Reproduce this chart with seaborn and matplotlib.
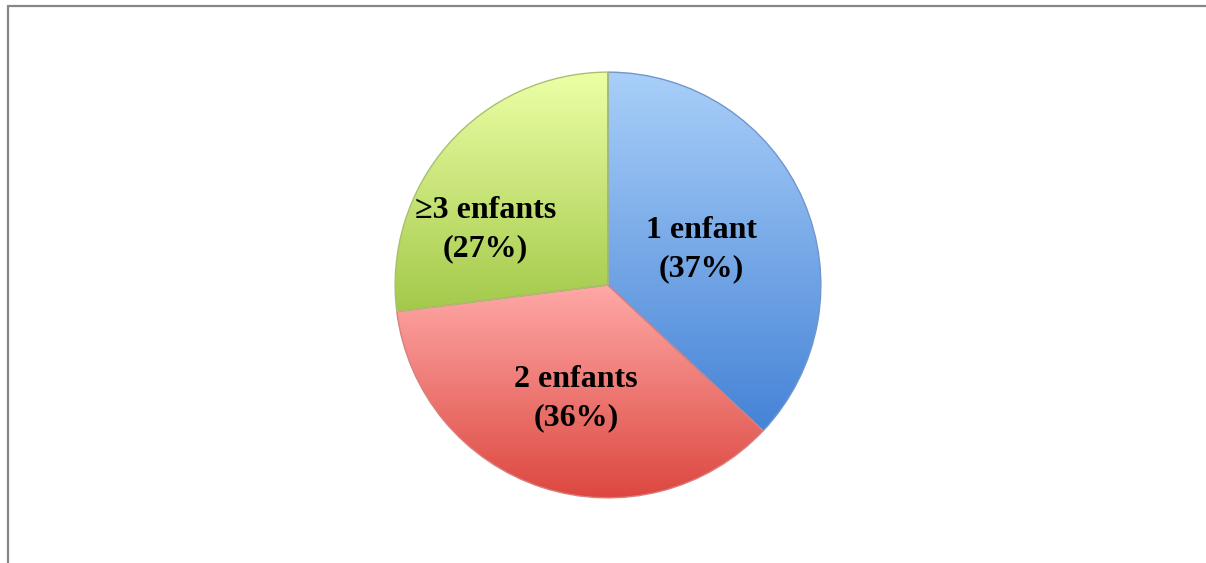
import matplotlib.pyplot as plt
import numpy as np
import seaborn as sns
from matplotlib.colors import to_rgb

# data
categories = ['1 enfant', '2 enfants', '≥3 enfants']
shares = [37, 36, 27]
labels = [f'{c}\n({s}%)' for c, s in zip(categories, shares)]

# gradient colours per slice: light (top) -> dark (bottom)
top_colors = ['#a9cff9', '#ffa9a7', '#ecffa6']
bottom_colors = ['#4583d6', '#dc463e', '#a3c94a']
edge_colors = ['#6f97cc', '#d88080', '#a9c070']
# label positions in pie units (centre of the two-line text)
label_pos = [(0.44, 0.165), (-0.15, -0.535), (-0.575, 0.26)]

sns.set_style("white")
plt.rcParams['font.family'] = ['Liberation Serif', 'DejaVu Serif']

fig = plt.figure(figsize=(12.06, 5.63), dpi=100)
ax = fig.add_axes([393 / 1206, 63 / 563, 430 / 1206, 430 / 563])

wedges, _ = ax.pie(shares, startangle=90, counterclock=False,
                   colors=sns.color_palette(bottom_colors),
                   wedgeprops=dict(linewidth=1.0))

for w, c_top, c_bot, c_edge in zip(wedges, top_colors, bottom_colors, edge_colors):
    verts = w.get_path().vertices
    y0, y1 = verts[:, 1].min(), verts[:, 1].max()
    n = 256
    yy = np.linspace(1, -1, n)
    t = np.clip((y1 - yy) / (y1 - y0), 0, 1)[:, None]
    grad = (1 - t) * np.array(to_rgb(c_top)) + t * np.array(to_rgb(c_bot))
    img = np.repeat(grad[:, None, :], 2, axis=1)
    im = ax.imshow(img, extent=(-1, 1, -1, 1), aspect='auto',
                   interpolation='bilinear', zorder=1)
    im.set_clip_path(w)
    w.set_facecolor('none')
    w.set_edgecolor(c_edge)
    w.set_zorder(2)

for (x, y), lab in zip(label_pos, labels):
    ax.text(x, y, lab, ha='center', va='center', fontsize=23,
            fontweight='bold', linespacing=1.4, color='black', zorder=3)

ax.set_xlim(-1.01, 1.01)
ax.set_ylim(-1.01, 1.01)
ax.axis('off')

# grey frame on top and left edges
fig.add_artist(plt.Line2D([8 / 1206, 1], [1 - 6 / 563, 1 - 6 / 563],
                          color='#878787', linewidth=1.6, transform=fig.transFigure))
fig.add_artist(plt.Line2D([8 / 1206, 8 / 1206], [0, 1 - 6 / 563],
                          color='#878787', linewidth=1.6, transform=fig.transFigure))

fig.savefig('out.png', dpi=100)
